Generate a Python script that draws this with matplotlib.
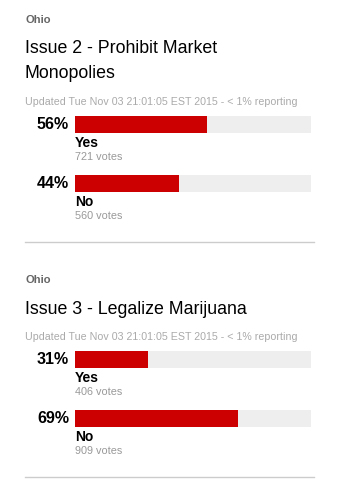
import matplotlib
matplotlib.use("Agg")
import matplotlib.pyplot as plt

plt.rcParams['font.family'] = ['Liberation Sans', 'DejaVu Sans']

# data
state = "Ohio"
updated = "Updated Tue Nov 03 21:01:05 EST 2015 - < 1% reporting"
issues = ["Issue 2 - Prohibit Market\nMonopolies", "Issue 3 - Legalize Marijuana"]
options = ["Yes", "No"]
issue2_pct = [56, 44]
issue2_votes = [721, 560]
issue3_pct = [31, 69]
issue3_votes = [406, 909]

W, H = 356, 488
fig = plt.figure(figsize=(W / 100, H / 100), dpi=100)
ax = fig.add_axes([0, 0, 1, 1])
ax.set_xlim(0, W)
ax.set_ylim(H, 0)
ax.axis('off')

RED = '#cc0000'
BG = '#eeeeee'
GRAY = '#999999'

BAR_X0, BAR_X1 = 75, 311


def bar_axes(y_top, y_bot):
    # small axes in pixel layout, x scale = percent
    b = fig.add_axes([BAR_X0 / W, 1 - y_bot / H, (BAR_X1 - BAR_X0) / W, (y_bot - y_top) / H])
    b.set_xlim(0, 100)
    b.set_ylim(-0.5, 0.5)
    b.axis('off')
    return b


# layout per section: (ohio y, title y, updated y, [bar tops], separator y)
sections = [
    dict(title=issues[0], pct=issue2_pct, votes=issue2_votes,
         ohio=20, title_y=61, upd=102, bars=[116, 175], sep=242),
    dict(title=issues[1], pct=issue3_pct, votes=issue3_votes,
         ohio=280, title_y=309, upd=337, bars=[351, 410], sep=477),
]

for s in sections:
    ax.text(25, s['ohio'], state, fontsize=8, fontweight='bold', color='#666666', va='center')
    ax.text(25, s['title_y'], s['title'], fontsize=12.8, color='#000000', va='center',
            linespacing=1.6)
    ax.text(25, s['upd'], updated, fontsize=7.7, color='#aaaaaa', va='center')
    for opt, pct, votes, top in zip(options, s['pct'], s['votes'], s['bars']):
        b = bar_axes(top, top + 17)
        b.barh(0, 100, height=1, color=BG, left=0)
        b.barh(0, pct, height=1, color=RED, left=0)
        ax.text(69, top + 8.5, f"{pct}%", fontsize=11.5, fontweight='bold', ha='right', va='center')
        ax.text(75, top + 27, opt, fontsize=10, fontweight='bold', va='center')
        ax.text(75, top + 41, f"{votes} votes", fontsize=7.8, color=GRAY, va='center')
    ax.plot([25, 314], [s['sep'], s['sep']], color='#cccccc', lw=1)

fig.savefig('out.png', dpi=100)
